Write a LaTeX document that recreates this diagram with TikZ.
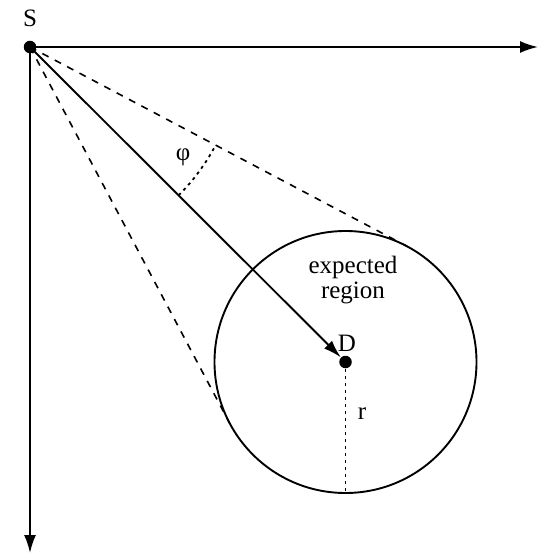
\documentclass[tikz,border=0pt]{standalone}
\usepackage{fontspec}
\setmainfont{Liberation Serif}
\usetikzlibrary{arrows.meta}
\begin{document}
\begin{tikzpicture}[x=1pt,y=1pt,
  dotnode/.style={circle,fill=black,inner sep=0pt,minimum size=12.5pt},
  lbl/.style={font=\fontsize{25}{25}\selectfont,inner sep=0pt},
  axis/.style={line width=1.9pt,-{Latex[length=18pt,width=12pt]}},
  tangent/.style={line width=1.6pt,dash pattern=on 7pt off 7pt},
  dotline/.style={line width=1.8pt,dash pattern=on 3pt off 4pt}]
\useasboundingbox (0,0) rectangle (544,-553);
\node[dotnode] (S) at (30,-47) {};
\node[dotnode] (D) at (345.5,-362) {};
\coordinate (X) at (538,-47);
\coordinate (Y) at (30,-553);
\coordinate (T1) at (406.8,-246.2);
\coordinate (T2) at (229.8,-423.5);
\coordinate (B) at (345.5,-493);
% axes
\draw[axis] (S.center) -- (X);
\draw[axis] (S.center) -- (Y);
% circle
\draw[line width=1.9pt] (D.center) circle[radius=131];
% tangents
\draw[tangent] (S.center) -- (T1);
\draw[tangent] (S.center) -- (T2);
% angle arc
\draw[dotline] (S.center) ++(-44.95:210) arc[start angle=-44.95, end angle=-27.86, radius=210];
% main arrow
\draw[line width=1.9pt,-{Latex[length=18pt,width=11pt]}] (S.center) -- (D);
% radius
\draw[dotline] (D.center) -- (B);
% labels
\node[lbl] (lS) at (30,-18) {S};
\node[lbl] (lD) at (347,-343) {D};
\node[lbl] (lr) at (362,-414) {r};
\node[lbl] (lphi) at (183,-157) {φ};
\node[lbl,align=center] (lreg) at (353,-280) {expected\\region};
\end{tikzpicture}
\end{document}
